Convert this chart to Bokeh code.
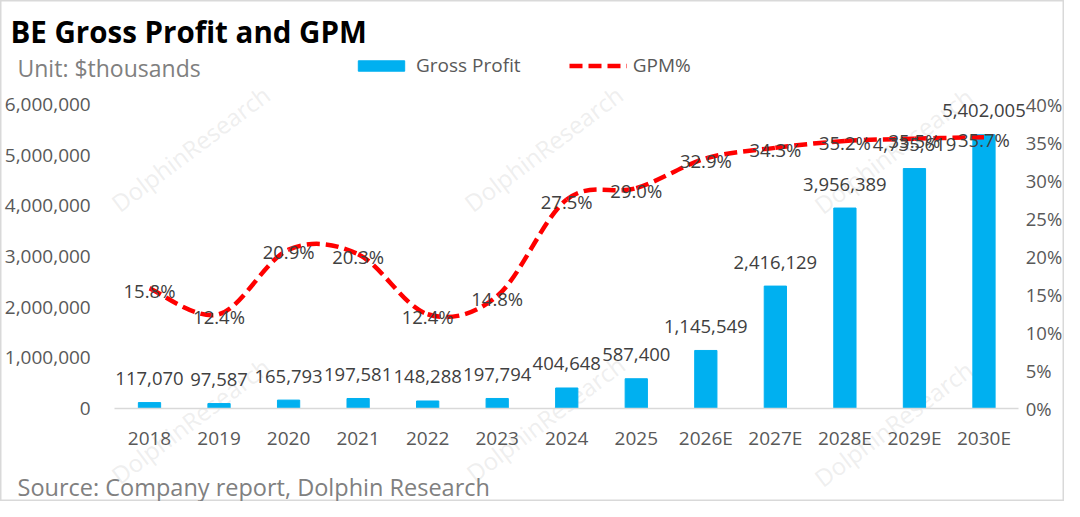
from bokeh.plotting import figure
from bokeh.models import (ColumnDataSource, LabelSet, Label, Range1d, LinearAxis,
                          FixedTicker, NumeralTickFormatter, PrintfTickFormatter,
                          Legend, LegendItem)
from bokeh.core.properties import value
from bokeh.embed import file_html
from bokeh.resources import INLINE

years = ["2018", "2019", "2020", "2021", "2022", "2023", "2024", "2025",
         "2026E", "2027E", "2028E", "2029E", "2030E"]
gross_profit = [117070, 97587, 165793, 197581, 148288, 197794, 404648, 587400,
                1145549, 2416129, 3956389, 4735619, 5402005]
gpm = [15.8, 12.4, 20.9, 20.3, 12.4, 14.8, 27.5, 29.0, 32.9, 34.3, 35.2, 35.5, 35.7]
gp_ticks = [0, 1000000, 2000000, 3000000, 4000000, 5000000, 6000000]
pct_ticks = [0, 5, 10, 15, 20, 25, 30, 35, 40]

FONT = "Open Sans"
BAR = "#00B0F0"
RED = "#FF0000"
TICK = "#595959"

W, H = 1064, 501
# pixel layout of the plotting area inside the canvas
X0_PX, STEP_PX = 149, 69.54      # centre of first category, category spacing
Y0_PX, YTOP_PX = 408, 104        # pixel rows of 0 and of the top tick

idx = list(range(len(years)))
gp_max, pct_max = gp_ticks[-1], pct_ticks[-1]
span = Y0_PX - YTOP_PX

p = figure(width=W, height=H, output_backend="svg", toolbar_location=None,
           x_range=Range1d(-X0_PX / STEP_PX, (W - X0_PX) / STEP_PX),
           y_range=Range1d(-(H - Y0_PX) / span * gp_max, gp_max + YTOP_PX / span * gp_max),
           min_border_left=0, min_border_right=0, min_border_top=0, min_border_bottom=0)
p.extra_y_ranges = {"pct": Range1d(-(H - Y0_PX) / span * pct_max,
                                   pct_max + YTOP_PX / span * pct_max)}
p.title.visible = False
p.outline_line_color = "#D9D9D9"
p.outline_line_width = 2
p.grid.visible = False
p.background_fill_color = "white"
p.border_fill_color = "white"

left_edge, right_edge = -0.5, len(years) - 0.5

# x axis sits on the zero line
p.xaxis.fixed_location = 0
p.xaxis.bounds = (left_edge, right_edge)
p.xaxis.ticker = FixedTicker(ticks=idx)
p.xaxis.major_label_overrides = {i: y for i, y in enumerate(years)}
p.xaxis.axis_line_color = "#D9D9D9"
p.xaxis.axis_line_width = 1.5
p.xaxis.major_tick_line_color = None
p.xaxis.minor_tick_line_color = None
p.xaxis.major_tick_out = 0
p.xaxis.major_label_standoff = 16
p.xaxis.major_label_text_font = FONT
p.xaxis.major_label_text_font_size = "19px"
p.xaxis.major_label_text_color = TICK

# left axis
p.yaxis.fixed_location = left_edge
p.yaxis.ticker = FixedTicker(ticks=gp_ticks)
p.yaxis.formatter = NumeralTickFormatter(format="0,0")
p.yaxis.axis_line_color = None
p.yaxis.major_tick_line_color = None
p.yaxis.minor_tick_line_color = None
p.yaxis.major_tick_out = 0
p.yaxis.major_label_standoff = 24
p.yaxis.major_label_text_font = FONT
p.yaxis.major_label_text_font_size = "19px"
p.yaxis.major_label_text_color = TICK

# right axis
ra = LinearAxis(y_range_name="pct", fixed_location=right_edge,
                ticker=FixedTicker(ticks=pct_ticks),
                formatter=PrintfTickFormatter(format="%d%%"))
ra.axis_line_color = None
ra.major_tick_line_color = None
ra.minor_tick_line_color = None
ra.major_tick_out = 0
ra.major_label_standoff = 7
ra.major_label_text_font = FONT
ra.major_label_text_font_size = "18.5px"
ra.major_label_text_color = TICK
p.add_layout(ra, "right")

# watermarks
for cx, cy in [(190, 148), (543, 148), (893, 150), (190, 420), (545, 418), (893, 423)]:
    p.add_layout(Label(x=cx, y=H - cy, x_units="screen", y_units="screen",
                       text="DolphinResearch", angle=37, angle_units="deg",
                       text_align="center", text_baseline="middle",
                       text_font=FONT, text_font_size="24px",
                       text_color="#C8C8C8", text_alpha=0.3, level="underlay"))

# bars
bars_src = ColumnDataSource(dict(x=idx, top=gross_profit,
                                 label=[f"{v:,}" for v in gross_profit]))
bars = p.vbar(x="x", top="top", width=0.32, color=BAR, source=bars_src)

# smooth GPM line built from bezier segments (Catmull-Rom control points)
n = len(gpm)
seg = dict(x0=[], y0=[], x1=[], y1=[], cx0=[], cy0=[], cx1=[], cy1=[])
for i in range(n - 1):
    xa, ya = (idx[i - 1], gpm[i - 1]) if i > 0 else (idx[i], gpm[i])
    xd, yd = (idx[i + 2], gpm[i + 2]) if i + 2 < n else (idx[i + 1], gpm[i + 1])
    seg["x0"].append(idx[i]); seg["y0"].append(gpm[i])
    seg["x1"].append(idx[i + 1]); seg["y1"].append(gpm[i + 1])
    seg["cx0"].append(idx[i] + (idx[i + 1] - xa) / 6)
    seg["cy0"].append(gpm[i] + (gpm[i + 1] - ya) / 6)
    seg["cx1"].append(idx[i + 1] - (xd - idx[i]) / 6)
    seg["cy1"].append(gpm[i + 1] - (yd - gpm[i]) / 6)
curve = p.bezier(x0="x0", y0="y0", x1="x1", y1="y1", cx0="cx0", cy0="cy0",
                 cx1="cx1", cy1="cy1", source=ColumnDataSource(seg),
                 line_color=RED, line_width=4.5, line_dash="13 6", y_range_name="pct")

# data labels
p.add_layout(LabelSet(x="x", y="top", text="label", source=bars_src,
                      text_align="center", text_baseline="middle", y_offset=24,
                      text_font=value(FONT), text_font_size=value("18.5px"),
                      text_color="#404040"))
gpm_src = ColumnDataSource(dict(x=idx, y=gpm, label=[f"{v:.1f}%" for v in gpm]))
p.add_layout(LabelSet(x="x", y="y", text="label", source=gpm_src, y_range_name="pct",
                      text_align="center", text_baseline="middle", y_offset=-2,
                      text_font=value(FONT), text_font_size=value("18.5px"),
                      text_color="#404040"))

# legend
legend = Legend(items=[LegendItem(label="Gross Profit", renderers=[bars]),
                       LegendItem(label="GPM%", renderers=[curve])],
                orientation="horizontal", location=(352, 423),
                glyph_width=58, glyph_height=13, label_height=13,
                label_standoff=6, spacing=48, padding=0, margin=0,
                border_line_color=None, background_fill_alpha=0,
                label_text_font=FONT, label_text_font_size="19px",
                label_text_color=TICK)
p.add_layout(legend, "center")

# texts
p.add_layout(Label(x=10, y=H - 31, x_units="screen", y_units="screen",
                   text="BE Gross Profit and GPM", text_baseline="middle",
                   text_font=FONT, text_font_size="29.5px", text_font_style="bold",
                   text_color="black"))
p.add_layout(Label(x=17, y=H - 67, x_units="screen", y_units="screen",
                   text="Unit: $thousands", text_baseline="middle",
                   text_font=FONT, text_font_size="23px", text_color="#808080"))
p.add_layout(Label(x=17, y=H - 486, x_units="screen", y_units="screen",
                   text="Source: Company report, Dolphin Research", text_baseline="middle",
                   text_font=FONT, text_font_size="23.5px", text_color="#808080"))

open("out.html", "w").write(file_html(p, INLINE))
